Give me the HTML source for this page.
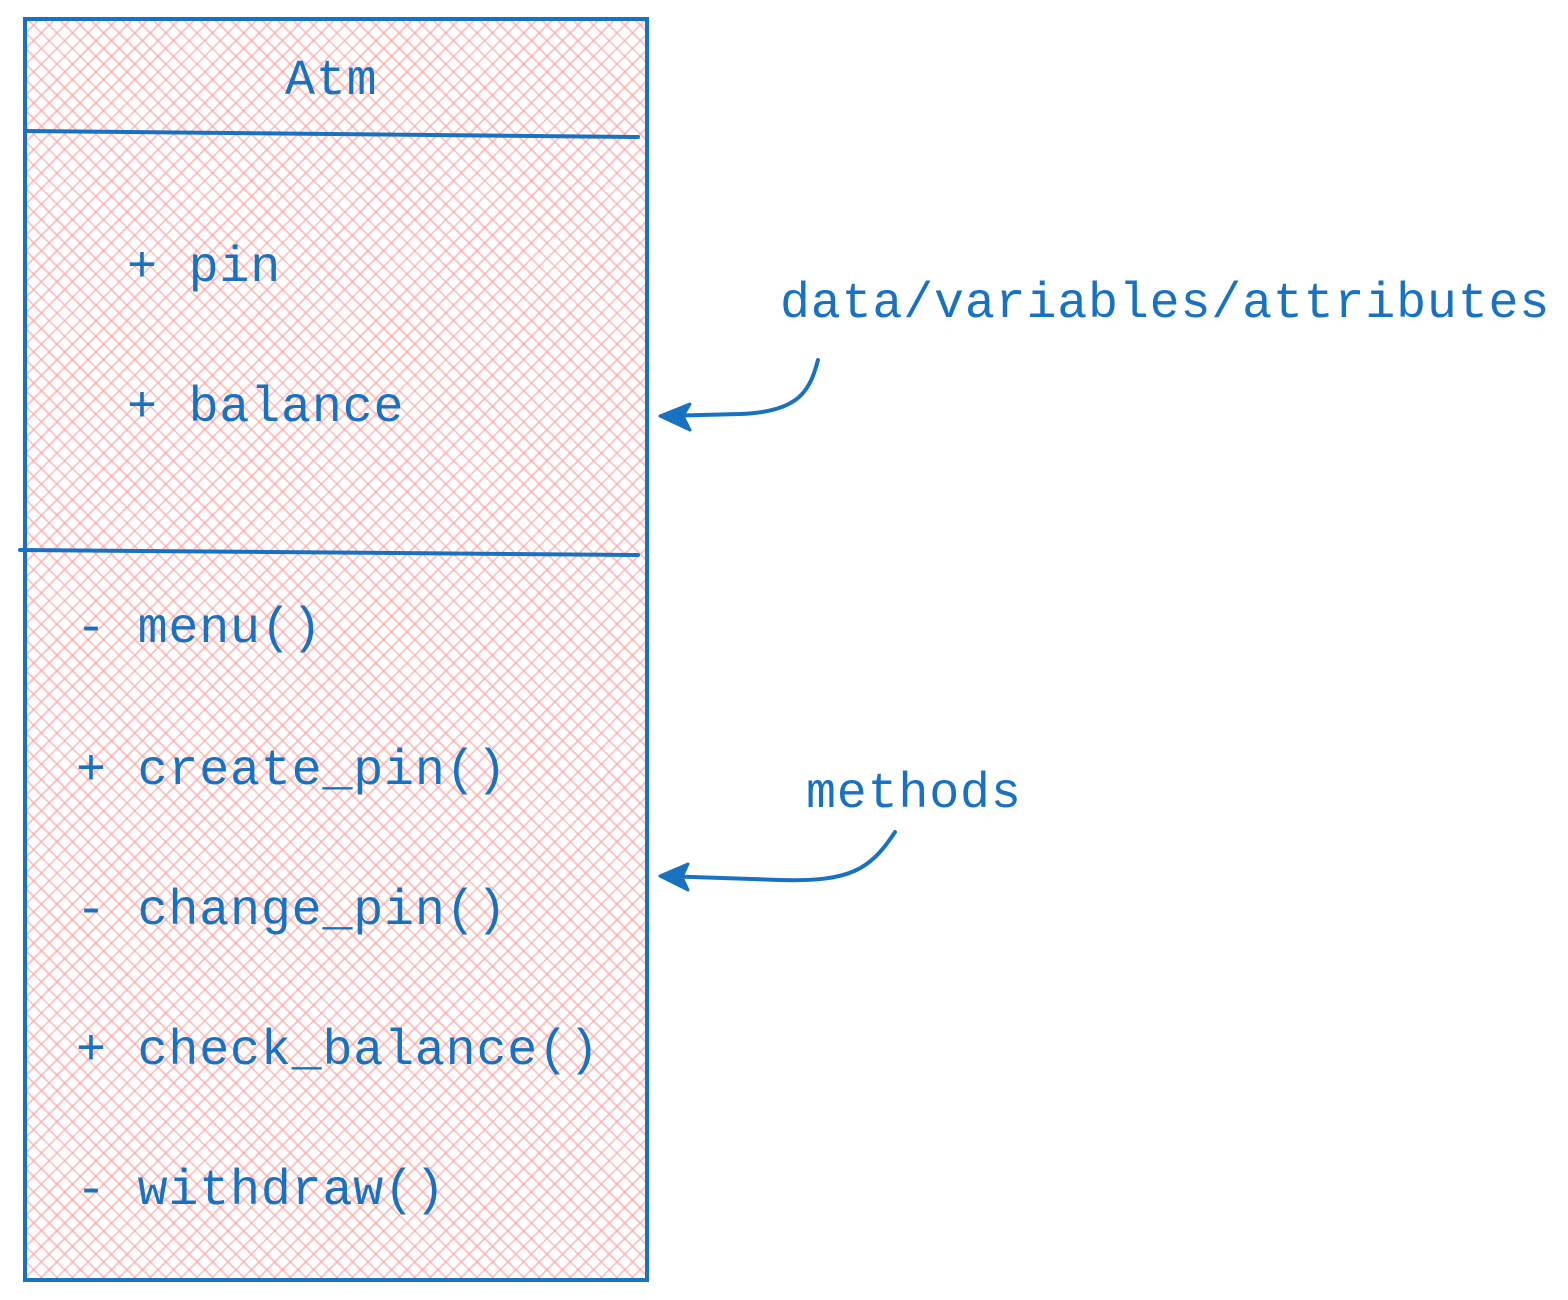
<!DOCTYPE html>
<html><head><style>
html,body{margin:0;padding:0;background:#fff;}
body{width:1568px;height:1300px;position:relative;overflow:hidden;}
.hatch{position:absolute;left:27px;top:20px;width:620px;height:1260px;
background:
repeating-linear-gradient(45deg,rgba(255,160,160,0.6) 0 2px,transparent 2px 11px),
repeating-linear-gradient(-45deg,rgba(255,160,160,0.6) 0 2px,transparent 2px 11px);}
.t{position:absolute;font-family:"Liberation Mono",monospace;font-size:50px;letter-spacing:0.8px;color:#1971c2;white-space:pre;line-height:1;}
</style></head><body>
<div class="hatch"></div>
<svg width="1568" height="1300" style="position:absolute;left:0;top:0">
<g stroke="#1971c2" stroke-width="4" fill="none" stroke-linecap="round">
<path d="M25 19 L647 19 L647 1280 L25 1280 Z"/>
<path d="M25 131 Q300 133 638 137"/>
<path d="M20 550 Q300 551 638 555"/>
<path d="M818 360 C810 390 800 412 740 414 L662 416"/>
<path d="M895 832 C870 870 850 882 780 880 L662 876"/>
</g>
<g fill="#1971c2" stroke="#1971c2" stroke-width="3" stroke-linejoin="round">
<path d="M660 416 L690 404 L683 416 L690 430 Z"/>
<path d="M660 876 L688 864 L682 877 L688 890 Z"/>
</g>
</svg>
<div class="t" style="left:285px;top:57px">Atm</div>
<div class="t" style="left:127px;top:244px">+ pin</div>
<div class="t" style="left:127px;top:384px">+ balance</div>
<div class="t" style="left:76px;top:605px">- menu()</div>
<div class="t" style="left:76px;top:747px">+ create_pin()</div>
<div class="t" style="left:76px;top:887px">- change_pin()</div>
<div class="t" style="left:76px;top:1027px">+ check_balance()</div>
<div class="t" style="left:76px;top:1167px">- withdraw()</div>
<div class="t" style="left:780px;top:280px">data/variables/attributes</div>
<div class="t" style="left:806px;top:770px">methods</div>
</body></html>
